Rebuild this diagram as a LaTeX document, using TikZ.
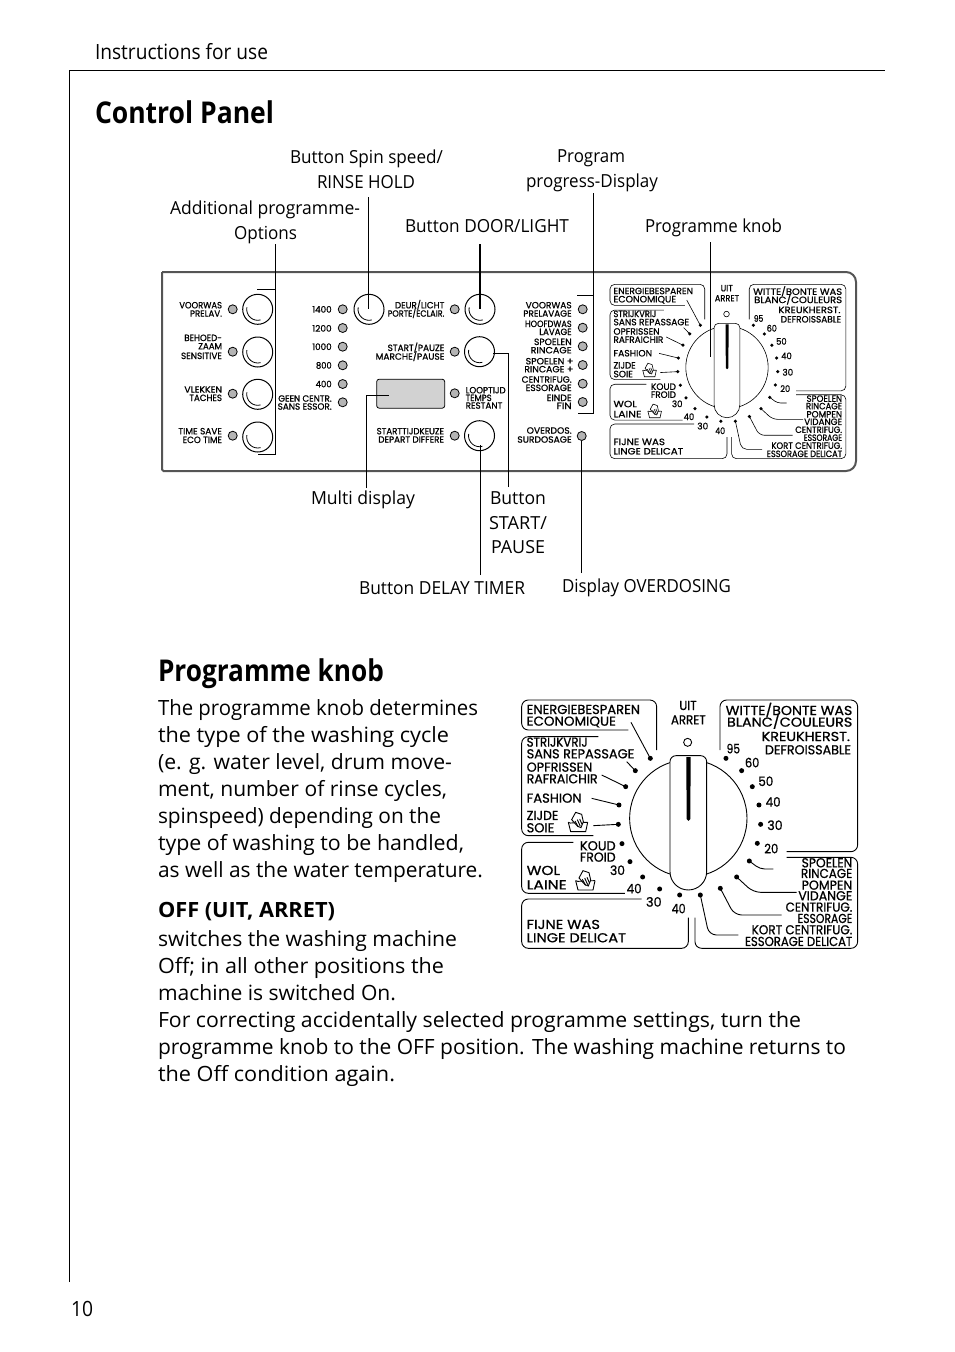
\documentclass[tikz,border=0pt]{standalone}
\usepackage{fontspec}
\usepackage{graphicx}
\setmainfont{Open Sans}
\newfontfamily\bodyf{Open Sans}
\newfontfamily\dialf[FakeBold=0.9]{Poppins}
\newcounter{tc}
\definecolor{ledg}{HTML}{B4B4B4}
\definecolor{dispg}{HTML}{D2D2D2}
\definecolor{panelg}{HTML}{555555}
\tikzset{
  x=1pt,y=-1pt,
  leader/.style={line width=0.8pt,black},
  led/.style={circle,draw=black,fill=ledg,line width=0.8pt,minimum size=9pt,inner sep=0pt},
  knobbtn/.style={circle,draw=black,line width=1pt,minimum size=30pt,inner sep=0pt},
  txt/.style={anchor=base west,inner sep=0pt,outer sep=0pt}
}
% fitted text: x1, x2, baseline, font+text
\newcommand{\ft}[4]{\stepcounter{tc}\pgfmathsetlengthmacro{\tw}{(#2)-(#1)}%
  \node[txt] (t\arabic{tc}) at (#1,#3) {\resizebox{\tw}{\height}{#4}};}
\newcommand{\bt}[4]{\ft{#1}{#2}{#3}{\fontsize{21}{25}\bodyf #4}}
\newcommand{\dt}[4]{\ft{#1}{#2}{#3}{\fontsize{39}{39}\dialf #4}}
\newcommand{\pt}[4]{\ft{#1}{#2}{#3}{\fontsize{27}{27}\dialf #4}}
\newcommand{\washicon}[3]{%
  \begin{scope}[shift={(#1,#2)},line width=#3]
   \draw (0,30) -- (7,58) -- (52,58) -- (58,30);
   \draw (0,30) .. controls (10,36) and (14,28) .. (22,32) .. controls (32,38) and (40,28) .. (58,30);
   \draw[fill=white] (10,22) -- (22,0) -- (40,6) -- (45,28) -- (38,46) -- (28,42) -- cycle;
   \draw (20,26) -- (30,44) (27,22) -- (36,42) (34,20) -- (41,36);
  \end{scope}}
% the dial, in units of the 3x crop
\newcommand{\dial}[3]{%
 \begin{scope}[shift={#1},scale=#2,transform shape,line width=#3]
  \begin{scope}[rounded corners=#2*20pt]
  \draw (425,165) -- (425,15) -- (20,15) -- (20,105) -- (340,105);
  \draw (250,125) -- (20,125) -- (20,422) -- (235,422);
  \draw (175,442) -- (20,442) -- (20,595) -- (330,595);
  \draw (380,612) -- (20,612) -- (20,760) -- (520,760) -- (520,668);
  \draw (615,165) -- (615,15) -- (1028,15) -- (1028,470) -- (815,470);
  \draw (815,487) -- (1028,487) -- (1028,760) -- (540,760) -- (540,668);
  \end{scope}
  % knob
  \draw (520,370) circle[radius=176pt];
  \draw[fill=white] (465,200) arc[start angle=180,end angle=90,radius=18pt] -- (557,182)
     arc[start angle=90,end angle=0,radius=18pt] -- (575,530)
     arc[start angle=0,end angle=-180,radius=55pt] -- cycle;
  \fill (514,186) -- (527,186) -- (526,372) arc[start angle=0,end angle=-180,radius=5.5pt] -- cycle;
  \draw (518,142) circle[radius=12pt];
  % leaders
  \draw (348,82) -- (406,190);
  \draw (335,200) -- (361,227);
  \draw (260,240) -- (332,275);
  \draw (230,310) -- (312,330);
  \draw (235,392) -- (310,388);
  \draw[rounded corners=#2*22pt] (556,600) -- (582,720) -- (670,720);
  \draw[rounded corners=#2*22pt] (616,580) -- (658,660) -- (800,660);
  \draw[rounded corners=#2*22pt] (665,546) -- (715,592) -- (845,592);
  \draw[rounded corners=#2*14pt] (703,498) -- (735,522) -- (775,522);
  \foreach \a/\b in {406/190,361/227,332/275,312/330,310/388,321/446,345/500,383/546,434/582,494/600,556/600,616/580,665/546,703/498,727/445,737/388,732/330,712/275,680/227,633/190}
    \fill (\a,\b) circle[radius=7.5pt];
  \washicon{160}{352}{#3}
  \washicon{182}{527}{#3}
  \dt{493}{545}{45}{UIT}
  \dt{468}{572}{88}{ARRET}
  \dt{35}{375}{57}{ENERGIEBESPAREN}
  \dt{35}{303}{92}{ECONOMIQUE}
  \dt{35}{218}{155}{STRIJKVRIJ}
  \dt{35}{358}{190}{SANS REPASSAGE}
  \dt{35}{232}{230}{OPFRISSEN}
  \dt{35}{248}{265}{RAFRAICHIR}
  \dt{35}{200}{323}{FASHION}
  \dt{35}{130}{375}{ZIJDE}
  \dt{35}{118}{412}{SOIE}
  \dt{195}{302}{466}{KOUD}
  \dt{195}{302}{500}{FROID}
  \dt{285}{330}{540}{30}
  \dt{35}{135}{540}{WOL}
  \dt{35}{155}{583}{LAINE}
  \dt{335}{380}{595}{40}
  \dt{393}{440}{635}{30}
  \dt{470}{512}{655}{40}
  \dt{35}{255}{702}{FIJNE WAS}
  \dt{35}{333}{742}{LINGE DELICAT}
  \dt{632}{1012}{60}{WITTE/BONTE WAS}
  \dt{636}{1012}{95}{BLANC/COULEURS}
  \dt{740}{1005}{138}{KREUKHERST.}
  \dt{750}{1008}{178}{DEFROISSABLE}
  \dt{635}{675}{175}{95}
  \dt{690}{733}{217}{60}
  \dt{730}{775}{273}{50}
  \dt{752}{797}{335}{40}
  \dt{757}{803}{405}{30}
  \dt{748}{790}{475}{20}
  \dt{860}{1012}{517}{SPOELEN}
  \dt{858}{1012}{549}{RINCAGE}
  \dt{860}{1012}{584}{POMPEN}
  \dt{850}{1012}{616}{VIDANGE}
  \dt{812}{1012}{650}{CENTRIFUG.}
  \dt{848}{1012}{684}{ESSORAGE}
  \dt{710}{1012}{718}{KORT CENTRIFUG.}
  \dt{690}{1012}{753}{ESSORAGE DELICAT}
 \end{scope}}
\newcommand{\btnarc}[1]{\draw[line width=0.8pt] (#1.center) ++(170:11pt) arc[start angle=170,end angle=285,radius=11pt];}
\begin{document}
\begin{tikzpicture}
\useasboundingbox (0,0) rectangle (954,1352);
% page frame
\coordinate (fa) at (69.5,1282); \coordinate (fb) at (69.5,70.5); \coordinate (fc) at (885,70.5);
\draw[line width=1pt] (fa) -- (fb) -- (fc);
\bt{95}{268}{59}{Instructions for use}
\bt{71}{93}{1316}{10}
\ft{95}{274}{123}{\fontsize{30}{30}\bodyf\bfseries Control Panel}
\ft{158}{384}{681}{\fontsize{30}{30}\bodyf\bfseries Programme knob}
% callouts
\ft{290}{443}{163}{\fontsize{18}{20}\bodyf Button Spin speed/}
\ft{317}{415}{188}{\fontsize{18}{20}\bodyf RINSE HOLD}
\ft{170}{360}{214}{\fontsize{18}{20}\bodyf Additional programme-}
\ft{234}{297}{239}{\fontsize{18}{20}\bodyf Options}
\ft{405}{569}{232}{\fontsize{18}{20}\bodyf Button DOOR/LIGHT}
\ft{557}{625}{162}{\fontsize{18}{20}\bodyf Program}
\ft{526}{658}{187}{\fontsize{18}{20}\bodyf progress-Display}
\ft{645}{782}{232}{\fontsize{18}{20}\bodyf Programme knob}
\ft{311}{415}{504}{\fontsize{18}{20}\bodyf Multi display}
\ft{490}{546}{504}{\fontsize{18}{20}\bodyf Button}
\ft{489}{547}{529}{\fontsize{18}{20}\bodyf START/}
\ft{491}{545}{553}{\fontsize{18}{20}\bodyf PAUSE}
\ft{359}{525}{594}{\fontsize{18}{20}\bodyf Button DELAY TIMER}
\ft{562}{731}{592}{\fontsize{18}{20}\bodyf Display OVERDOSING}
% panel
\draw[panelg,line width=2pt,rounded corners=1.5pt] (162,272) -- (162,471) -- (500,471);
\draw[panelg,line width=2pt,rounded corners=10pt] (500,471) -- (856,471) -- (856,272) -- (162,272);
% buttons and LEDs
\foreach \n/\x/\y in {a/257.7/309.3,b/257.7/352,c/257.7/394.3,d/257.7/437,s/369/309.3,e/480/309.3,f/479.5/351.7,g/479.5/435.7}{
  \node[knobbtn] (b\n) at (\x,\y) {}; \btnarc{b\n}}
\foreach \n/\x/\y in {a/232.7/309.3,b/232.7/351.7,c/232.7/393.7,d/232.7/435.7,
  e/342.7/309.3,f/342.7/328,g/342.7/346.7,h/342.7/365.3,i/342.7/384,j/342.7/402.3,
  k/454.7/309.3,l/454.7/351.7,m/454.7/393.3,n/454.7/435.7,
  o/582.7/309.3,p/582.7/327.7,q/582.7/346.3,r/582.7/365,s/582.7/383.7,t/582.7/402,u/581.7/436}
  \node[led] (l\n) at (\x,\y) {};
\node[draw=black,fill=dispg,line width=0.8pt,rounded corners=2.5pt,minimum width=68pt,minimum height=29pt,inner sep=0pt] (disp) at (410.7,393.7) {};
% leaders
\coordinate (a1) at (275.5,244); \coordinate (a2) at (275.5,289.3); \coordinate (a3) at (257,289.3); \coordinate (a4) at (275.5,454.3); \coordinate (a5) at (258,454.3);
\draw[leader] (a1) -- (a4) -- (a5); \draw[leader] (a2) -- (a3);
\coordinate (s1) at (368.5,197); \coordinate (s2) at (368.5,309);
\draw[leader] (s1) -- (s2);
\coordinate (d1) at (480,244); \coordinate (d2) at (480,309);
\draw[line width=1.4pt] (d1) -- (d2);
\coordinate (p1) at (593.3,193); \coordinate (p2) at (593.3,295); \coordinate (p3) at (577,295); \coordinate (p4) at (593.3,413.3); \coordinate (p5) at (578,413.3);
\draw[leader] (p1) -- (p4) -- (p5); \draw[leader] (p2) -- (p3);
\coordinate (k1) at (710.8,242); \coordinate (k2) at (710.8,356.5);
\draw[leader] (k1) -- (k2);
\coordinate (m1) at (366.5,488); \coordinate (m2) at (366.5,395.7); \coordinate (m3) at (388.7,395.7);
\draw[leader] (m1) -- (m2) -- (m3);
\coordinate (t1) at (480,575); \coordinate (t2) at (480,445);
\draw[leader] (t1) -- (t2);
\coordinate (u1) at (508.3,487); \coordinate (u2) at (508.3,353.5); \coordinate (u3) at (493,353.5);
\draw[leader] (u1) -- (u2) -- (u3);
\coordinate (o1) at (581.7,573);
\draw[leader] (o1) -- (lu.south);
% panel labels
\begin{scope}[shift={(160,265)},scale=1/3,transform shape]
 \pt{58}{186}{130}{VOORWAS}\pt{90}{186}{155}{PRELAV.}
 \pt{73}{186}{228}{BEHOED-}\pt{115}{186}{253}{ZAAM}\pt{63}{186}{282}{SENSITIVE}
 \pt{73}{186}{383}{VLEKKEN}\pt{88}{186}{408}{TACHES}
 \pt{55}{186}{508}{TIME SAVE}\pt{68}{186}{534}{ECO TIME}
 \pt{457}{515}{143}{1400}\pt{457}{515}{200}{1200}\pt{457}{515}{255}{1000}
 \pt{468}{515}{311}{800}\pt{467}{515}{367}{400}
 \pt{355}{515}{410}{GEEN CENTR.}\pt{353}{515}{434}{SANS ESSOR.}
 \pt{705}{853}{130}{DEUR/LICHT}\pt{683}{853}{155}{PORTE/ECLAIR.}
 \pt{683}{853}{258}{START/PAUZE}\pt{647}{853}{284}{MARCHE/PAUSE}
 \pt{917}{1037}{385}{LOOPTIJD}\pt{917}{995}{408}{TEMPS}\pt{917}{1027}{431}{RESTANT}
 \pt{650}{852}{508}{STARTTIJDKEUZE}\pt{655}{852}{533}{DEPART DIFFERE}
\end{scope}
\begin{scope}[shift={(510,265)},scale=1/3,transform shape]
 \pt{47}{185}{130}{VOORWAS}\pt{40}{185}{155}{PRELAVAGE}
 \pt{45}{185}{186}{HOOFDWAS}\pt{88}{185}{210}{LAVAGE}
 \pt{72}{185}{240}{SPOELEN}\pt{62}{185}{265}{RINCAGE}
 \pt{47}{190}{298}{SPOELEN +}\pt{43}{190}{322}{RINCAGE +}
 \pt{35}{185}{353}{CENTRIFUG.}\pt{47}{185}{378}{ESSORAGE}
 \pt{110}{185}{408}{EINDE}\pt{140}{185}{432}{FIN}
 \pt{50}{185}{506}{OVERDOS.}\pt{22}{185}{533}{SURDOSAGE}
\end{scope}
\dial{(605.3,280.83)}{0.234}{0.6pt}
\dial{(515,695)}{0.3333}{0.9pt}
% body
\bt{158}{478}{715}{The programme knob determines}
\bt{158}{449}{742}{the type of the washing cycle}
\bt{158}{452}{769}{(e. g. water level, drum move-}
\bt{158}{447}{796}{ment, number of rinse cycles,}
\bt{158}{441}{823}{spinspeed) depending on the}
\bt{158}{464}{850}{type of washing to be handled,}
\bt{158}{483}{877}{as well as the water temperature.}
\ft{158}{335}{917}{\fontsize{21}{25}\bodyf\bfseries OFF (UIT, ARRET)}
\bt{158}{457}{946}{switches the washing machine}
\bt{158}{444}{973}{Off; in all other positions the}
\bt{158}{396}{1000}{machine is switched On.}
\bt{158}{801}{1027}{For correcting accidentally selected programme settings, turn the}
\bt{158}{846}{1054}{programme knob to the OFF position. The washing machine returns to}
\bt{158}{395}{1081}{the Off condition again.}
\end{tikzpicture}
\end{document}
